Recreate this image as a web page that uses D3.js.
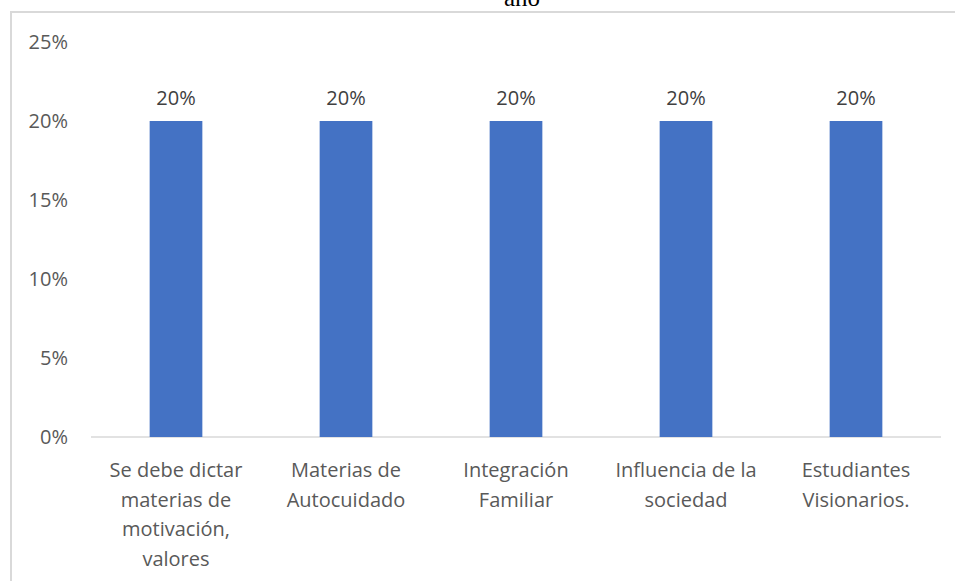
<!DOCTYPE html>
<meta charset="utf-8">
<script src="https://d3js.org/d3.v7.min.js"></script>
<style>
  body { margin: 0; background: #fff; }
  text { font-family: "Open Sans", "Noto Sans", sans-serif; }
</style>
<div id="my_dataviz"></div>
<script>

    // chart data
    var categories = [
        ["Se debe dictar", "materias de", "motivación,", "valores"],
        ["Materias de", "Autocuidado"],
        ["Integración", "Familiar"],
        ["Influencia de la", "sociedad"],
        ["Estudiantes", "Visionarios."]
    ];
    var values = [0.20, 0.20, 0.20, 0.20, 0.20];
    var yTicks = [0, 0.05, 0.10, 0.15, 0.20, 0.25];

    var W = 955, H = 581;
    var margin = {top: 42, left: 91, right: 14, bottom: 144};

    var svg = d3.select("#my_dataviz")
        .append("svg")
            .attr("width", W)
            .attr("height", H);

    // outer frame of the chart area
    svg.append("path")
        .attr("d", "M11,581V12H955")
        .attr("fill", "none")
        .attr("stroke", "#d9d9d9")
        .attr("stroke-width", 2);

    // title (cut off at top in the original)
    svg.append("text")
        .attr("x", 522)
        .attr("y", 6)
        .attr("text-anchor", "middle")
        .style("font-family", "'Liberation Serif', 'Times New Roman', serif")
        .style("font-size", "25px")
        .attr("fill", "#000")
        .text("año");

    var x = d3.scaleBand()
        .domain(d3.range(categories.length))
        .range([margin.left, W - margin.right])
        .paddingInner(0.69)
        .paddingOuter(0.345);

    var y = d3.scaleLinear()
        .domain([0, 0.25])
        .range([H - margin.bottom, margin.top]);

    // Y axis labels
    svg.append("g")
        .selectAll("text")
        .data(yTicks)
        .enter()
        .append("text")
            .attr("x", 68)
            .attr("y", function(d) { return y(d); })
            .attr("dy", "0.35em")
            .attr("text-anchor", "end")
            .attr("fill", "#595959")
            .style("font-size", "20px")
            .text(d3.format(".0%"));

    // baseline
    svg.append("line")
        .attr("x1", margin.left)
        .attr("x2", W - margin.right)
        .attr("y1", y(0))
        .attr("y2", y(0))
        .attr("stroke", "#d9d9d9")
        .attr("stroke-width", 1.5);

    // Bars
    svg.selectAll("mybar")
        .data(values)
        .enter()
        .append("rect")
            .attr("x", function(d, i) { return x(i); })
            .attr("y", function(d) { return y(d); })
            .attr("width", x.bandwidth())
            .attr("height", function(d) { return y(0) - y(d); })
            .attr("fill", "#4472c4");

    // data labels
    svg.selectAll("vlabel")
        .data(values)
        .enter()
        .append("text")
            .attr("x", function(d, i) { return x(i) + x.bandwidth() / 2; })
            .attr("y", function(d) { return y(d) - 23; })
            .attr("dy", "0.35em")
            .attr("text-anchor", "middle")
            .attr("fill", "#404040")
            .style("font-size", "20px")
            .text(d3.format(".0%"));

    // category labels
    var cat = svg.selectAll("clabel")
        .data(categories)
        .enter()
        .append("text")
            .attr("text-anchor", "middle")
            .attr("fill", "#595959")
            .style("font-size", "20px")
            .attr("transform", function(d, i) {
                return "translate(" + (x(i) + x.bandwidth() / 2) + "," + (y(0) + 33) + ")";
            });
    cat.selectAll("tspan")
        .data(function(d) { return d; })
        .enter()
        .append("tspan")
            .attr("x", 0)
            .attr("y", function(d, j) { return j * 29.5; })
            .attr("dy", "0.35em")
            .text(function(d) { return d; });

</script>
